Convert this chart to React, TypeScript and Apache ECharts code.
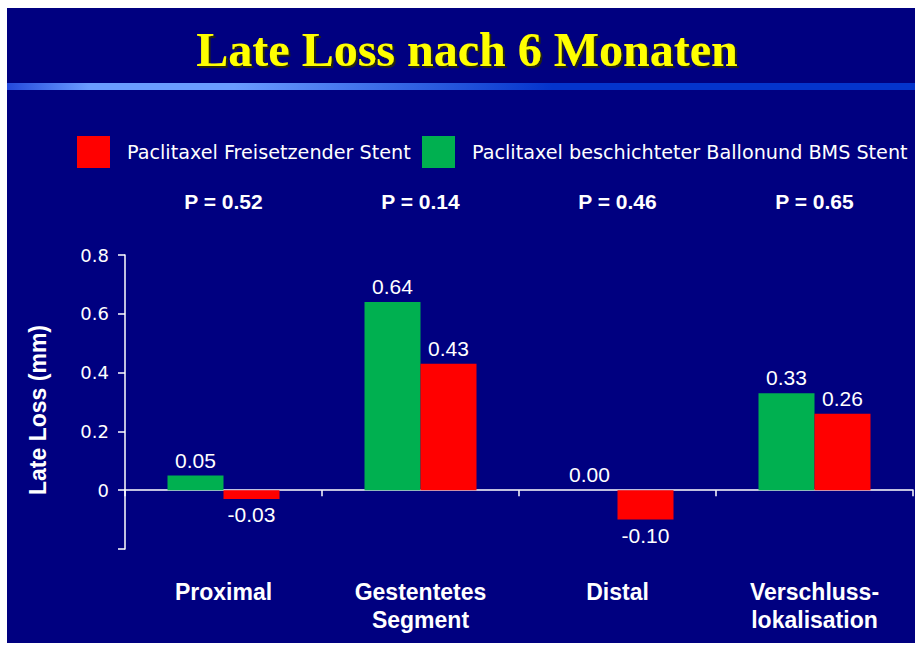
import React, { useEffect, useRef } from "react";
import * as echarts from "echarts";

const categories = ["Proximal", "Gestentetes\nSegment", "Distal", "Verschluss-\nlokalisation"];
const pValueLabels = ["P = 0.52", "P = 0.14", "P = 0.46", "P = 0.65"];
const greenName = "Paclitaxel beschichteter Ballonund BMS Stent";
const redName = "Paclitaxel Freisetzender Stent";
const greenValues = [0.05, 0.64, 0.0, 0.33];
const redValues = [-0.03, 0.43, -0.1, 0.26];
const Y_MIN = -0.2;
const Y_MAX = 0.8;
const Y_STEP = 0.2;
const yTickLabels = ["", "0", "0.2", "0.4", "0.6", "0.8"];

const GREEN = "#00b050";
const RED = "#ff0000";
const NAVY = "#000080";

function toItems(values: number[]) {
  return values.map((v) => ({
    value: v,
    label: { position: v < 0 ? "bottom" : "top" },
  }));
}

export default function App() {
  const ref = useRef<HTMLDivElement>(null);
  useEffect(() => {
    if (!ref.current) return;
    const chart = echarts.init(ref.current, undefined, { renderer: "svg" });
    const labelStyle = {
      show: true,
      color: "#ffffff",
      fontFamily: "Liberation Sans",
      fontSize: 21,
      distance: 5,
      formatter: (p: any) => Number(p.value).toFixed(2),
    };
    const legendText = {
      color: "#ffffff",
      fontFamily: "DejaVu Sans",
      fontSize: 19.2,
      padding: [0, 0, 0, 12],
    };
    chart.setOption({
      animation: false,
      backgroundColor: "#ffffff",
      title: {
        text: "Late Loss nach 6 Monaten",
        left: 462,
        textAlign: "center",
        top: 20,
        textStyle: {
          color: "#ffff00",
          fontFamily: "Liberation Serif",
          fontWeight: "bold",
          fontSize: 48,
          textShadowColor: "rgba(40,40,0,0.9)",
          textShadowOffsetX: 2,
          textShadowOffsetY: 2,
          textShadowBlur: 1,
        },
      },
      graphic: [
        {
          type: "rect",
          z: -10,
          shape: { x: 7, y: 8, width: 908, height: 635 },
          style: { fill: NAVY },
          silent: true,
        },
        {
          type: "rect",
          z: -9,
          shape: { x: 7, y: 83, width: 908, height: 7 },
          style: {
            fill: {
              type: "linear",
              x: 0,
              y: 0,
              x2: 1,
              y2: 0,
              colorStops: [
                { offset: 0, color: "#2448dc" },
                { offset: 0.09, color: "#6a9cff" },
                { offset: 0.25, color: "#6a9cff" },
                { offset: 0.6, color: "#0434cc" },
                { offset: 1, color: "#0434cc" },
              ],
            },
          },
          silent: true,
        },
      ],
      legend: [
        {
          data: [redName],
          left: 77,
          top: 136,
          padding: 0,
          itemWidth: 33,
          itemHeight: 32,
          icon: "rect",
          selectedMode: false,
          textStyle: legendText,
        },
        {
          data: [greenName],
          left: 422,
          top: 136,
          padding: 0,
          itemWidth: 33,
          itemHeight: 32,
          icon: "rect",
          selectedMode: false,
          textStyle: legendText,
        },
      ],
      grid: {
        left: 125,
        right: 2,
        top: 255,
        bottom: 646 - 549,
        containLabel: false,
        outerBoundsMode: "none",
      },
      xAxis: [
        {
          type: "category",
          data: categories,
          axisLine: { onZero: true, lineStyle: { color: "#ffffff", width: 1.5 } },
          axisTick: { show: true, length: 6, lineStyle: { color: "#ffffff", width: 1.5 } },
          axisLabel: {
            color: "#ffffff",
            fontFamily: "Liberation Sans",
            fontWeight: "bold",
            fontSize: 23,
            lineHeight: 28,
            margin: 29,
            interval: 0,
          },
        },
        {
          type: "category",
          position: "top",
          data: pValueLabels,
          axisLine: { show: false, onZero: false },
          axisTick: { show: false },
          axisLabel: {
            color: "#ffffff",
            fontFamily: "Liberation Sans",
            fontWeight: "bold",
            fontSize: 21,
            lineHeight: 26,
            margin: 41,
            interval: 0,
          },
        },
      ],
      yAxis: {
        type: "value",
        min: Y_MIN,
        max: Y_MAX,
        interval: Y_STEP,
        name: "Late Loss (mm)",
        nameLocation: "middle",
        nameGap: 76,
        nameTextStyle: {
          color: "#ffffff",
          fontFamily: "Liberation Sans",
          fontWeight: "bold",
          fontSize: 23,
          padding: [0, 16, 0, 0],
        },
        axisLine: { show: true, lineStyle: { color: "#ffffff", width: 1.5 } },
        axisTick: { show: true, length: 7, lineStyle: { color: "#ffffff", width: 1.5 } },
        splitLine: { show: false },
        axisLabel: {
          color: "#ffffff",
          fontFamily: "DejaVu Sans",
          fontSize: 18,
          margin: 16,
          formatter: (v: number) => yTickLabels[Math.round((v - Y_MIN) / Y_STEP)] ?? "",
        },
      },
      series: [
        {
          name: greenName,
          type: "bar",
          data: toItems(greenValues),
          barWidth: 56,
          barGap: "0%",
          itemStyle: { color: GREEN },
          label: labelStyle,
        },
        {
          name: redName,
          type: "bar",
          data: toItems(redValues),
          barWidth: 56,
          barGap: "0%",
          itemStyle: { color: RED },
          label: labelStyle,
        },
      ],
    });
    return () => chart.dispose();
  }, []);
  return (
    <div
      ref={ref}
      style={{ position: "fixed", left: 0, top: 0, width: 915, height: 646 }}
    />
  );
}
